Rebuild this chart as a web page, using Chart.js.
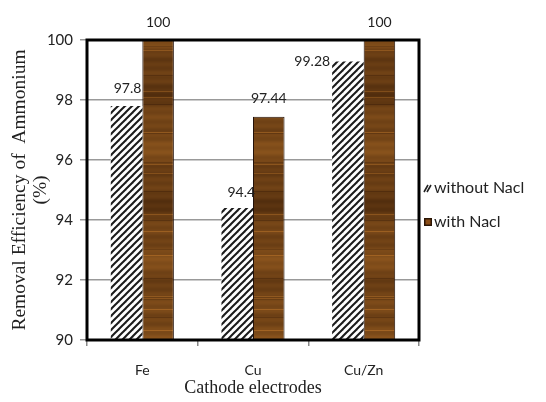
<!DOCTYPE html>
<html>
<head>
<meta charset="utf-8">
<script src="https://cdn.jsdelivr.net/npm/chart.js@4.4.1/dist/chart.umd.min.js"></script>
<style>
    html, body { margin: 0; padding: 0; background: #fff; }
    #wrap { width: 546px; height: 402px; }
</style>
</head>
<body>
<div id="wrap"><canvas id="chart"></canvas></div>
<script>
// ======================= Data =======================
const categories = ["Fe", "Cu", "Cu/Zn"];
const withoutNacl = [97.8, 94.4, 99.28];
const withNacl = [100, 97.44, 100];
const seriesNames = ["without Nacl", "with Nacl"];

const SANS = "Lato, 'Open Sans', sans-serif";
const SERIF = "'Liberation Serif', 'DejaVu Serif', serif";

// ======================= Patterns =======================
function makeHatch() {
    const c = document.createElement("canvas");
    const s = 7;
    c.width = s; c.height = s;
    const g = c.getContext("2d");
    g.fillStyle = "#fff";
    g.fillRect(0, 0, s, s);
    g.strokeStyle = "#1a1a1a";
    g.lineWidth = 2;
    for (let k = -1; k <= 1; k++) {
        g.beginPath();
        g.moveTo(k * s - 1, s + 1);
        g.lineTo(k * s + s + 1, -1);
        g.stroke();
    }
    return g.createPattern(c, "repeat");
}

// wood-like brown texture (horizontal grain)
function makeWood() {
    const c = document.createElement("canvas");
    c.width = 40; c.height = 300;
    const g = c.getContext("2d");
    const dark = [62, 32, 8], light = [180, 112, 40];
    for (let y = 0; y < c.height; y++) {
        let f = 0.4 + 0.12 * Math.sin(y * 0.055) + 0.08 * Math.sin(y * 0.17 + 1.2) + 0.05 * Math.sin(y * 0.71 + 0.4);
        if (y % 41 === 9 || y % 67 === 30) f += 0.3;
        if (y % 29 === 17) f -= 0.15;
        f = Math.max(0, Math.min(1, f));
        const col = dark.map((d, i) => Math.round(d + (light[i] - d) * f));
        g.fillStyle = `rgb(${col[0]},${col[1]},${col[2]})`;
        g.fillRect(0, y, c.width, 1);
    }
    return g.createPattern(c, "repeat");
}

const hatch = makeHatch();
const wood = makeWood();

// ======================= Plugins =======================
const labelOffsets = [
    [[1, -18, "center"], [4, -16, "center"], [-2, 0, "right"]],
    [[0, -18, "center"], [0, -18, "center"], [0, -18, "center"]]
];

const valueLabels = {
    id: "valueLabels",
    afterDatasetsDraw(chart) {
        const ctx = chart.ctx;
        ctx.save();
        ctx.font = `14px ${SANS}`;
        ctx.fillStyle = "#222";
        ctx.textBaseline = "middle";
        chart.data.datasets.forEach((ds, di) => {
            chart.getDatasetMeta(di).data.forEach((bar, i) => {
                const [dx, dy, align] = labelOffsets[di][i];
                ctx.textAlign = align;
                const x = align === "right" ? bar.x - bar.width / 2 + dx : bar.x + dx;
                ctx.fillText(String(ds.data[i]), x, bar.y + dy);
            });
        });
        ctx.restore();
    }
};

const frame = {
    id: "frame",
    afterDatasetsDraw(chart) {
        const { left, top, right, bottom } = chart.chartArea;
        const ctx = chart.ctx;
        ctx.save();
        ctx.strokeStyle = "#000";
        ctx.lineWidth = 3;
        ctx.strokeRect(left, top, right - left, bottom - top);
        ctx.restore();
    }
};

const sideLegend = {
    id: "sideLegend",
    afterDraw(chart) {
        const ctx = chart.ctx;
        const x = chart.chartArea.right + 5;
        ctx.save();
        ctx.font = `16px ${SANS}`;
        ctx.fillStyle = "#222";
        ctx.textBaseline = "middle";
        ctx.textAlign = "left";
        chart.data.datasets.forEach((ds, i) => {
            const y = chart.chartArea.top + 148 + i * 34;
            if (i === 0) {
                ctx.strokeStyle = "#222";
                ctx.lineWidth = 1.6;
                ctx.beginPath();
                ctx.moveTo(x, y + 4); ctx.lineTo(x + 4, y - 3);
                ctx.moveTo(x + 3, y + 4); ctx.lineTo(x + 7, y - 3);
                ctx.stroke();
            } else {
                ctx.fillStyle = "#2a1505";
                ctx.fillRect(x, y - 4, 8, 8);
                ctx.fillStyle = "#8a4d17";
                ctx.fillRect(x + 1.5, y - 2.5, 5, 5);
                ctx.fillStyle = "#222";
            }
            ctx.fillText(ds.label, x + 10, y);
        });
        ctx.restore();
    }
};

// ======================= Chart =======================
new Chart(document.getElementById("chart"), {
    type: "bar",
    data: {
        labels: categories,
        datasets: [{
            label: seriesNames[0],
            data: withoutNacl,
            backgroundColor: hatch,
            borderWidth: 0,
            categoryPercentage: 0.57,
            barPercentage: 1
        }, {
            label: seriesNames[1],
            data: withNacl,
            backgroundColor: wood,
            borderColor: "#24120a",
            borderWidth: 1,
            categoryPercentage: 0.57,
            barPercentage: 1
        }]
    },
    options: {
        responsive: true,
        maintainAspectRatio: false,
        animation: false,
        devicePixelRatio: 1,
        layout: { padding: { left: 9, right: 127, top: 40, bottom: 3 } },
        plugins: {
            legend: { display: false },
            tooltip: { enabled: false }
        },
        scales: {
            x: {
                afterFit: s => { s.height = 59; },
                grid: { drawOnChartArea: false, color: "#888", lineWidth: 1.5, tickLength: 6 },
                border: { display: false },
                ticks: { font: { family: SANS, size: 14 }, color: "#222", padding: 16 },
                title: {
                    display: true,
                    text: "Cathode electrodes",
                    font: { family: SERIF, size: 18 },
                    color: "#222",
                    padding: { top: 0, bottom: 0 }
                }
            },
            y: {
                min: 90,
                max: 100,
                afterFit: s => { s.width = 78; },
                grid: { color: "#999", lineWidth: 1.5, tickLength: 7 },
                border: { display: false },
                ticks: { stepSize: 2, font: { family: SANS, size: 15 }, color: "#222", padding: 7 },
                title: {
                    display: true,
                    text: ["Removal Efficiency of  Ammonium", "(%)"],
                    font: { family: SERIF, size: 19.5, lineHeight: 1.1 },
                    color: "#222",
                    padding: { top: 0, bottom: 0 }
                }
            }
        }
    },
    plugins: [valueLabels, frame, sideLegend]
});
</script>
</body>
</html>
